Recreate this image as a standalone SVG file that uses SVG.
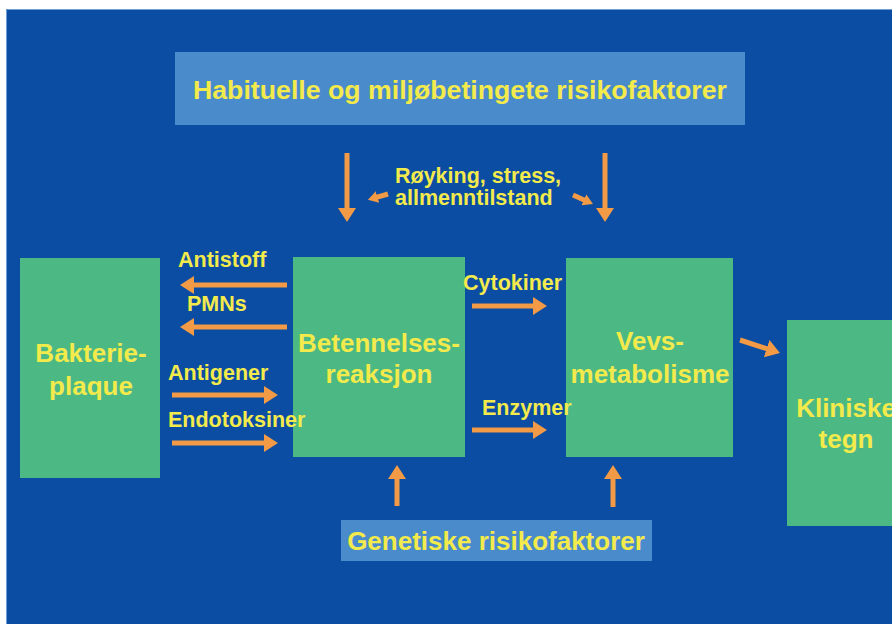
<svg xmlns="http://www.w3.org/2000/svg" width="892" height="624" viewBox="0 0 892 624">
  <style>
    .box { fill: #4cb985; }
    .panel { fill: #4a8bcb; }
    .lbl { font-family: "Liberation Sans", Arial, sans-serif; font-weight: bold; fill: #f3ea4c; }
    .big { font-size: 26px; text-anchor: middle; }
    .small { font-size: 21.5px; }
    .arr { stroke: #f29a45; stroke-width: 5; fill: none; marker-end: url(#head); }
    .arrs { stroke: #f29a45; stroke-width: 5; fill: none; marker-end: url(#heads); }
  </style>
  <defs>
    <marker id="head" markerUnits="userSpaceOnUse" markerWidth="14" markerHeight="18" refX="3" refY="9" orient="auto">
      <path d="M0,0 L14,9 L0,18 z" fill="#f29a45"/>
    </marker>
    <marker id="heads" markerUnits="userSpaceOnUse" markerWidth="10" markerHeight="12" refX="2" refY="6" orient="auto">
      <path d="M0,0 L10,6 L0,12 z" fill="#f29a45"/>
    </marker>
  </defs>
  <rect x="0" y="0" width="892" height="624" fill="#ffffff"/>
  <rect x="6" y="9" width="886" height="615" fill="#0b4da2"/>
  <path d="M6.5,624 L6.5,9.5 L892,9.5" stroke="#6f9fd8" stroke-width="1" fill="none"/>

  <g id="habituelle">
    <rect class="panel" x="175" y="52" width="570" height="73"/>
    <text class="lbl" x="460" y="99" font-size="25" text-anchor="middle" textLength="534" lengthAdjust="spacingAndGlyphs">Habituelle og miljøbetingete risikofaktorer</text>
  </g>
  <g id="rokyking-label">
    <text class="lbl small" x="395" y="183" font-size="21">Røyking, stress,</text>
    <text class="lbl small" x="395" y="205" font-size="21">allmenntilstand</text>
  </g>
  <g id="bakterieplaque">
    <rect class="box" x="20" y="258" width="140" height="220"/>
    <text class="lbl big" x="91" y="362">Bakterie-</text>
    <text class="lbl big" x="91" y="395">plaque</text>
  </g>
  <g id="betennelsesreaksjon">
    <rect class="box" x="293" y="257" width="172" height="200"/>
    <text class="lbl big" x="379" y="352">Betennelses-</text>
    <text class="lbl big" x="379" y="383">reaksjon</text>
  </g>
  <g id="vevsmetabolisme">
    <rect class="box" x="566" y="258" width="167" height="199"/>
    <text class="lbl big" x="650" y="350">Vevs-</text>
    <text class="lbl big" x="650" y="383">metabolisme</text>
  </g>
  <g id="kliniske-tegn">
    <rect class="box" x="787" y="320" width="120" height="206"/>
    <text class="lbl big" x="846" y="417">Kliniske</text>
    <text class="lbl big" x="846" y="448">tegn</text>
  </g>
  <g id="genetiske">
    <rect class="panel" x="341" y="520" width="311" height="41"/>
    <text class="lbl big" x="496" y="550">Genetiske risikofaktorer</text>
  </g>

  <g id="connectors">
    <line class="arr" x1="347" y1="153" x2="347" y2="211"/>
    <line class="arr" x1="605" y1="153" x2="605" y2="211"/>
    <line class="arrs" x1="388" y1="194" x2="375.6" y2="197.6"/>
    <line class="arrs" x1="573" y1="195" x2="585.7" y2="200.7"/>
    <line class="arr" x1="287" y1="285" x2="191" y2="285"/>
    <line class="arr" x1="287" y1="327" x2="191" y2="327"/>
    <line class="arr" x1="172" y1="395" x2="267" y2="395"/>
    <line class="arr" x1="172" y1="443" x2="267" y2="443"/>
    <line class="arr" x1="472" y1="306" x2="536" y2="306"/>
    <line class="arr" x1="472" y1="430" x2="536" y2="430"/>
    <line class="arr" x1="740" y1="340" x2="769.5" y2="349.6"/>
    <line class="arr" x1="397" y1="506" x2="397" y2="476"/>
    <line class="arr" x1="613" y1="507" x2="613" y2="476"/>
  </g>

  <g id="edge-labels">
    <text class="lbl small" x="178" y="267">Antistoff</text>
    <text class="lbl small" x="187" y="311">PMNs</text>
    <text class="lbl small" x="168" y="380">Antigener</text>
    <text class="lbl small" x="168" y="427">Endotoksiner</text>
    <text class="lbl small" x="463" y="290">Cytokiner</text>
    <text class="lbl small" x="482" y="415">Enzymer</text>
  </g>
</svg>
